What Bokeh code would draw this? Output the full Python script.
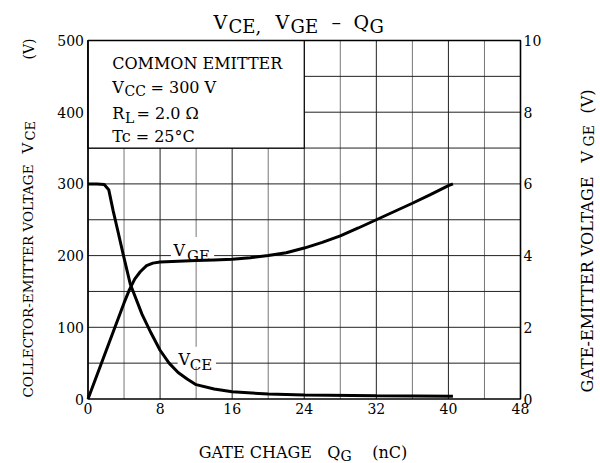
import math
from bokeh.plotting import figure
from bokeh.models import (Range1d, LinearAxis, FixedTicker, Label)
from bokeh.embed import file_html
from bokeh.resources import INLINE

# ---------------- data ----------------
qg_vce = [0, 1, 1.8, 2.3, 2.8, 3.3, 3.9, 4.7, 6, 7, 8, 9, 10, 11, 12, 14, 16, 20, 24, 32, 40.5]
vce = [300, 300, 299, 292, 262, 235, 202, 160, 118, 92, 68, 50, 37, 28, 20, 14, 10, 7, 5.5, 4.5, 4]

qg_vge = [0, 4, 4.6, 5.2, 5.8, 6.5, 7.2, 8, 10, 12, 14, 16, 18, 20, 22, 24, 26, 28, 30, 32, 34, 36, 38, 40, 40.5]
vge = [0, 2.68, 3.05, 3.35, 3.55, 3.72, 3.79, 3.82, 3.84, 3.86, 3.88, 3.9, 3.94, 4.0, 4.08, 4.21, 4.37,
       4.55, 4.77, 5.0, 5.23, 5.46, 5.7, 5.95, 6.0]

x_ticks = [0, 8, 16, 24, 32, 40, 48]
x_minor = [4, 12, 20, 28, 36, 44]
y_ticks = [0, 100, 200, 300, 400, 500]
y_grid = [50, 100, 150, 200, 250, 300, 350, 400, 450]
vge_ticks = [0, 2, 4, 6, 8, 10]
X_MAX, Y_MAX, VGE_MAX = 48, 500, 10
box_x, box_y = 24, 350   # blank condition box: x 0..24, y 350..500

FONT = "DejaVu Serif"

# canvas geometry: the frame is the whole canvas, the chart box sits inside it
W, H = 600, 463
PX0, PX1, PY0, PY1 = 87.5, 520.0, 398.5, 40.0
XS = (PX1 - PX0) / X_MAX
YS = (PY0 - PY1) / Y_MAX


def dx(px):
    return (px - PX0) / XS


def dy(py):
    return (PY0 - py) / YS


p = figure(frame_width=W, frame_height=H,
           min_border_left=0, min_border_right=0, min_border_top=0, min_border_bottom=0,
           x_range=Range1d(dx(0), dx(W)), y_range=Range1d(dy(H), dy(0)),
           output_backend="svg", toolbar_location=None, background_fill_color="white",
           border_fill_color="white")
p.extra_y_ranges = {"vge": Range1d(dy(H) * VGE_MAX / Y_MAX, dy(0) * VGE_MAX / Y_MAX)}
p.outline_line_color = None
p.xgrid.visible = False
p.ygrid.visible = False


def style_axis(ax, standoff):
    ax.major_tick_in = 0
    ax.major_tick_out = 0
    ax.minor_tick_in = 0
    ax.minor_tick_out = 0
    ax.axis_line_color = None
    ax.major_label_text_font = FONT
    ax.major_label_text_font_size = "14px"
    ax.major_label_text_color = "black"
    ax.major_label_standoff = standoff


bx = p.xaxis[0]
bx.fixed_location = 0
bx.ticker = FixedTicker(ticks=x_ticks)
style_axis(bx, 4)

ly = p.yaxis[0]
ly.fixed_location = 0
ly.ticker = FixedTicker(ticks=y_ticks)
style_axis(ly, 4)

ry = LinearAxis(y_range_name="vge", ticker=FixedTicker(ticks=vge_ticks), fixed_location=X_MAX)
style_axis(ry, 3)
p.add_layout(ry, "right")

# grid lines (inside chart box only)
p.segment(x0=x_minor, x1=x_minor, y0=[0] * len(x_minor), y1=[Y_MAX] * len(x_minor),
          line_color="#777777", line_width=1)
p.segment(x0=x_ticks, x1=x_ticks, y0=[0] * len(x_ticks), y1=[Y_MAX] * len(x_ticks),
          line_color="#222222", line_width=1)
p.segment(x0=[0] * len(y_grid), x1=[X_MAX] * len(y_grid), y0=y_grid, y1=y_grid,
          line_color="#222222", line_width=1)

# condition box (blank region) and label backgrounds
p.quad(left=0, right=box_x, bottom=box_y, top=Y_MAX, fill_color="white", line_color="black",
       line_width=1.2)
p.quad(left=9.2, right=14.0, bottom=198, top=226, fill_color="white", line_color=None)
p.quad(left=9.95, right=14.2, bottom=45, top=73, fill_color="white", line_color=None)

# chart frame
p.quad(left=0, right=X_MAX, bottom=0, top=Y_MAX, fill_color=None, line_color="black",
       line_width=1.6)

# curves
p.line(qg_vce, vce, line_color="black", line_width=3)
p.line(qg_vge, vge, y_range_name="vge", line_color="black", line_width=3)


def txt(px, py, s, size, angle=0.0, baseline="alphabetic"):
    p.add_layout(Label(x=dx(px), y=dy(py), text=s, text_font=FONT, text_font_size=f"{size}px",
                       text_color="black", text_baseline=baseline, text_align="left",
                       angle=angle))


# title
txt(213, 21.7, "V", 19)
txt(228, 26, "CE,", 18)
txt(275, 21.7, "V", 19)
txt(290, 26, "GE", 18)
txt(331, 21.7, "–", 19)
txt(353, 21.7, "Q", 19)
txt(369, 26, "G", 18)

# condition box text
txt(111.7, 63.3, "COMMON EMITTER", 16)
txt(111.7, 86.7, "V", 16)
txt(124.0, 90.7, "CC", 14)
txt(150, 86.7, "= 300 V", 16)
txt(111.7, 112.7, "R", 16)
txt(124.5, 117.3, "L", 14)
txt(136.0, 112.7, "= 2.0 Ω", 16)
txt(111.7, 136, "Tc = 25°C", 16)

# curve labels
txt(173.0, 250, "V", 16)
txt(186.5, 255, "GE", 15)
txt(178.0, 359, "V", 16)
txt(189.3, 364, "CE", 15)

# left axis label (rotated, centred on its line)
A = math.pi / 2
txt(27.5, 397, "COLLECTOR-EMITTER VOLTAGE", 13.5, A, "middle")
txt(27.5, 153, "V", 15, A, "middle")
txt(30.0, 140, "CE", 13, A, "middle")
txt(28.0, 59, "(V)", 14, A, "middle")

# right axis label (rotated, centred on its line)
txt(586.5, 392, "GATE-EMITTER VOLTAGE", 16, A, "middle")
txt(586.5, 162, "V", 16, A, "middle")
txt(588.5, 146, "GE", 14, A, "middle")
txt(587.0, 113, "(V)", 16, A, "middle")

# bottom axis label
txt(198.3, 452, "GATE CHAGE", 16)
txt(326.7, 452, "Q", 16)
txt(340, 455, "G", 14)
txt(371.7, 452, "(nC)", 16)

open("out.html", "w").write(file_html(p, INLINE))
